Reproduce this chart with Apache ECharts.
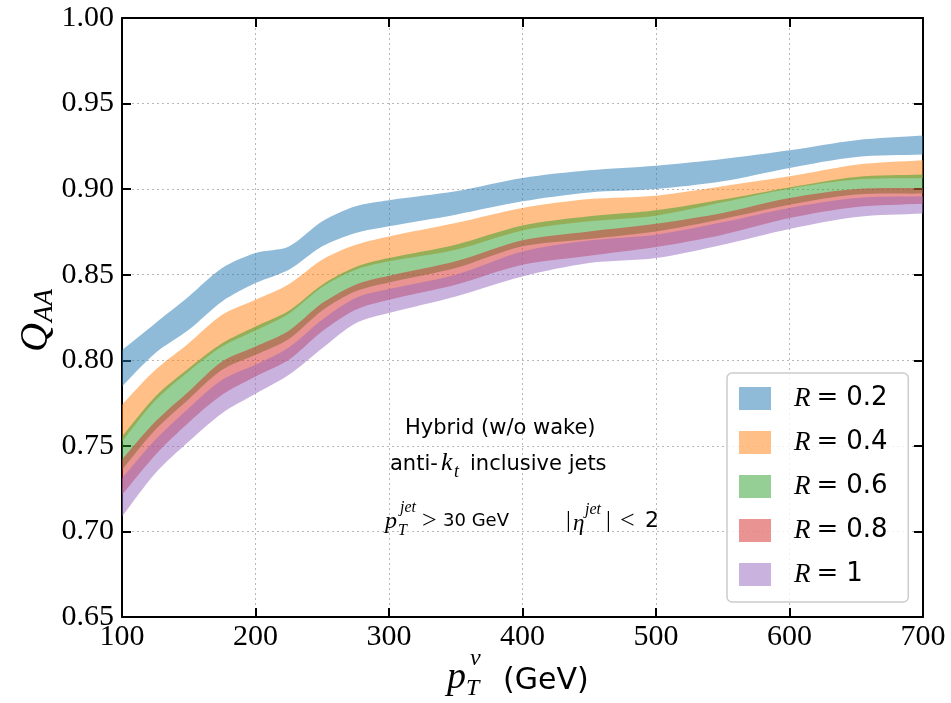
<!DOCTYPE html>
<html>
<head>
<meta charset="utf-8">
<script src="https://cdn.jsdelivr.net/npm/echarts@6/dist/echarts.min.js"></script>
<style>
  html, body { margin: 0; padding: 0; background: #fff; }
  #chart { width: 951px; height: 703px; }
</style>
</head>
<body>
<div id="chart"></div>
<script>
// pT^v (GeV)
var ptv = [100, 125, 150, 175, 200, 225, 250, 275, 300, 350, 400, 450, 500, 550, 600, 650, 700];

// band edges for each jet radius
var r02Hi = [0.806, 0.8217, 0.8373, 0.8539, 0.8627, 0.8665, 0.8812, 0.890, 0.8935, 0.8987, 0.9065, 0.911, 0.9137, 0.9176, 0.9227, 0.9286, 0.9313];
var r02Lo = [0.7847, 0.8042, 0.8178, 0.8344, 0.8451, 0.8529, 0.8666, 0.8744, 0.8783, 0.8851, 0.8929, 0.8981, 0.9001, 0.9046, 0.9124, 0.9188, 0.9202];
var r04Hi = [0.774, 0.7944, 0.810, 0.8266, 0.8354, 0.8445, 0.8588, 0.8675, 0.8724, 0.8802, 0.889, 0.8942, 0.8962, 0.9017, 0.9075, 0.9143, 0.9169];
var r04Lo = [0.7525, 0.7765, 0.7935, 0.808, 0.8174, 0.8272, 0.8428, 0.8529, 0.8578, 0.8646, 0.8759, 0.8812, 0.8845, 0.8923, 0.9003, 0.9056, 0.9065];
var r06Hi = [0.7555, 0.7789, 0.7954, 0.810, 0.8198, 0.829, 0.8442, 0.8545, 0.8597, 0.8675, 0.8787, 0.8841, 0.8876, 0.8939, 0.901, 0.9071, 0.9085];
var r06Lo = [0.736, 0.7594, 0.7773, 0.7944, 0.8032, 0.8125, 0.8291, 0.8403, 0.8455, 0.8539, 0.8666, 0.8709, 0.8753, 0.8826, 0.8909, 0.8968, 0.8974];
var r08Hi = [0.742, 0.7642, 0.7818, 0.7993, 0.8081, 0.8173, 0.8334, 0.8442, 0.8494, 0.8578, 0.8701, 0.8753, 0.8798, 0.8861, 0.8948, 0.9001, 0.9007];
var r08Lo = [0.7214, 0.7447, 0.7636, 0.7798, 0.7905, 0.8003, 0.8169, 0.8295, 0.8354, 0.8442, 0.8558, 0.8611, 0.8662, 0.8734, 0.8831, 0.8896, 0.8915];
var r10Hi = [0.731, 0.7535, 0.772, 0.7886, 0.7974, 0.8075, 0.8237, 0.8364, 0.8416, 0.850, 0.8636, 0.870, 0.8734, 0.8806, 0.889, 0.8948, 0.8958];
var r10Lo = [0.7087, 0.734, 0.7525, 0.7691, 0.7804, 0.7915, 0.8071, 0.8217, 0.8276, 0.8373, 0.849, 0.8568, 0.8597, 0.8675, 0.8767, 0.8837, 0.8857];

var radii = ['0.2', '0.4', '0.6', '0.8', '1'];
var colors = ['rgba(31,119,180,0.5)', 'rgba(255,127,14,0.5)', 'rgba(44,160,44,0.5)', 'rgba(214,39,40,0.5)', 'rgba(148,103,189,0.5)'];
var bands = [[r02Lo, r02Hi], [r04Lo, r04Hi], [r06Lo, r06Hi], [r08Lo, r08Hi], [r10Lo, r10Hi]];

var serif = 'Liberation Serif';
var sans = 'DejaVu Sans';

// one filled polygon per band, upper edge left->right then lower edge right->left
function bandRenderer(lo, hi, color) {
    return function (params, api) {
        if (params.dataIndex !== 0) return null;
        var top = ptv.map(function (x, k) { return api.coord([x, hi[k]]); });
        var bot = ptv.map(function (x, k) { return api.coord([x, lo[k]]); }).reverse();
        var pts = [top[0]].concat(top, [top[top.length - 1]], [bot[0]], bot, [bot[bot.length - 1]]);
        return {
            type: 'polygon',
            shape: { points: pts, smooth: 0.3 },
            style: { fill: color, stroke: null }
        };
    };
}

var series = bands.map(function (b, i) {
    return {
        name: 'R = ' + radii[i],
        type: 'custom',
        clip: true,
        silent: true,
        itemStyle: { color: colors[i] },
        renderItem: bandRenderer(b[0], b[1], colors[i]),
        data: ptv.map(function (x, k) { return [x, b[1][k]]; })
    };
});

var axisCommon = {
    axisLine: { show: true, onZero: false, lineStyle: { color: '#000', width: 2 } },
    axisTick: { show: true, inside: true, length: 9, lineStyle: { color: '#000', width: 2 } }
};

var myChart = echarts.init(document.getElementById('chart'));
var option = {
    backgroundColor: '#fff',
    animation: false,
    grid: { left: 122, right: 28, top: 18, bottom: 86 },
    legend: {
        data: radii.map(function (r) { return 'R = ' + r; }),
        orient: 'vertical',
        left: 727,
        top: 373,
        padding: [12, 12, 14, 12],
        itemWidth: 32,
        itemHeight: 23,
        itemGap: 17,
        icon: 'rect',
        borderColor: '#cccccc',
        borderWidth: 1.5,
        borderRadius: 5,
        backgroundColor: 'rgba(255,255,255,0.8)',
        formatter: function (n) {
            return '{r|R}{e|=}{n|' + n.replace('R = ', '') + '}';
        },
        textStyle: {
            rich: {
                r: { fontFamily: serif, fontStyle: 'italic', fontSize: 27, color: '#000', padding: [0, 0, 0, 18], lineHeight: 23 },
                e: { fontFamily: 'DejaVu Serif', fontSize: 26, color: '#000', padding: [0, 8, 0, 6], lineHeight: 23 },
                n: { fontFamily: sans, fontSize: 26, color: '#000', lineHeight: 23, width: 50 }
            }
        }
    },
    xAxis: [
        Object.assign({
            type: 'value', min: 100, max: 700, interval: 100,
            axisLabel: { color: '#000', fontFamily: serif, fontSize: 30, margin: 5 },
            splitLine: { show: true, lineStyle: { color: '#b8b8b8', type: [2, 3], width: 1 } }
        }, axisCommon),
        Object.assign({
            type: 'value', min: 100, max: 700, interval: 100, position: 'top',
            axisLabel: { show: false }, splitLine: { show: false }
        }, axisCommon)
    ],
    yAxis: [
        Object.assign({
            type: 'value', min: 0.65, max: 1.0, interval: 0.05,
            axisLabel: {
                color: '#000', fontFamily: serif, fontSize: 30, margin: 8,
                formatter: function (v) { return v.toFixed(2); }
            },
            splitLine: { show: true, lineStyle: { color: '#b8b8b8', type: [2, 3], width: 1 } }
        }, axisCommon),
        Object.assign({
            type: 'value', min: 0.65, max: 1.0, interval: 0.05, position: 'right',
            axisLabel: { show: false }, splitLine: { show: false }
        }, axisCommon)
    ],
    graphic: [
        // y axis title Q_AA
        {
            type: 'group', x: 36, y: 318, rotation: Math.PI / 2, z: 100,
            children: [
                { type: 'text', x: -34, y: 0, style: { text: 'Q', font: 'italic 40px ' + serif, fill: '#000', verticalAlign: 'middle' } },
                { type: 'text', x: -4, y: 9, style: { text: 'AA', font: 'italic 27px ' + serif, fill: '#000', verticalAlign: 'middle' } }
            ]
        },
        // x axis title p_T^v (GeV)
        { type: 'text', x: 447, y: 678, z: 100, style: { text: 'p', font: 'italic 38px ' + serif, fill: '#000', verticalAlign: 'middle' } },
        { type: 'text', x: 470, y: 659, z: 100, style: { text: 'v', font: 'italic 24px ' + serif, fill: '#000', verticalAlign: 'middle' } },
        { type: 'text', x: 466, y: 689, z: 100, style: { text: 'T', font: 'italic 24px ' + serif, fill: '#000', verticalAlign: 'middle' } },
        { type: 'text', x: 503, y: 681, z: 100, style: { text: '(GeV)', font: '30px ' + sans, fill: '#000', verticalAlign: 'middle' } },
        // annotation
        { type: 'text', x: 405, y: 429, z: 100, style: { text: 'Hybrid (w/o wake)', font: '21px ' + sans, fill: '#000', verticalAlign: 'middle' } },
        { type: 'text', x: 390, y: 465, z: 100, style: { text: 'anti-', font: '21px ' + sans, fill: '#000', verticalAlign: 'middle' } },
        { type: 'text', x: 441, y: 463, z: 100, style: { text: 'k', font: 'italic 26px ' + serif, fill: '#000', verticalAlign: 'middle' } },
        { type: 'text', x: 454, y: 472, z: 100, style: { text: 't', font: 'italic 18px ' + serif, fill: '#000', verticalAlign: 'middle' } },
        { type: 'text', x: 470, y: 465, z: 100, style: { text: 'inclusive jets', font: '21px ' + sans, fill: '#000', verticalAlign: 'middle' } },
        { type: 'text', x: 385, y: 522, z: 100, style: { text: 'p', font: 'italic 24px ' + serif, fill: '#000', verticalAlign: 'middle' } },
        { type: 'text', x: 400, y: 508, z: 100, style: { text: 'jet', font: 'italic 16px ' + serif, fill: '#000', verticalAlign: 'middle' } },
        { type: 'text', x: 398, y: 531, z: 100, style: { text: 'T', font: 'italic 16px ' + serif, fill: '#000', verticalAlign: 'middle' } },
        { type: 'text', x: 422, y: 521, z: 100, style: { text: '>', font: '26px ' + serif, fill: '#000', verticalAlign: 'middle' } },
        { type: 'text', x: 443, y: 521, z: 100, style: { text: '30 GeV', font: '18px ' + sans, fill: '#000', verticalAlign: 'middle' } },
        { type: 'text', x: 566, y: 521, z: 100, style: { text: '|', font: '24px ' + serif, fill: '#000', verticalAlign: 'middle' } },
        { type: 'text', x: 573, y: 524, z: 100, style: { text: 'η', font: 'italic 23px ' + serif, fill: '#000', verticalAlign: 'middle' } },
        { type: 'text', x: 585, y: 510, z: 100, style: { text: 'jet', font: 'italic 16px ' + serif, fill: '#000', verticalAlign: 'middle' } },
        { type: 'text', x: 606, y: 521, z: 100, style: { text: '|', font: '24px ' + serif, fill: '#000', verticalAlign: 'middle' } },
        { type: 'text', x: 620, y: 521, z: 100, style: { text: '<', font: '26px ' + serif, fill: '#000', verticalAlign: 'middle' } },
        { type: 'text', x: 645, y: 521, z: 100, style: { text: '2', font: '22px ' + sans, fill: '#000', verticalAlign: 'middle' } }
    ],
    series: series
};
myChart.setOption(option);
</script>
</body>
</html>
